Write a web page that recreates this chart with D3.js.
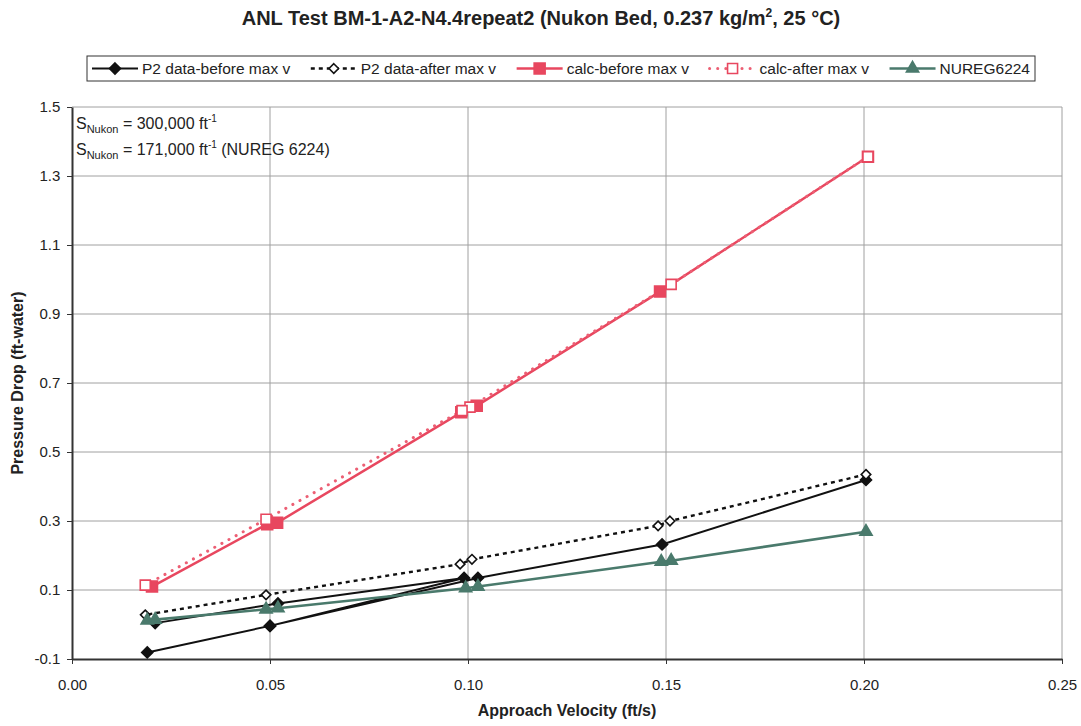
<!DOCTYPE html>
<html><head><meta charset="utf-8">
<script src="https://cdn.jsdelivr.net/npm/d3@7"></script>
<style>
body{margin:0;background:#fff;}
svg{display:block;font-family:"Liberation Sans",Arial,sans-serif;}
</style></head>
<body>
<svg id="chart" width="1081" height="726"></svg>
<script>
// ---------- data ----------
const xTicks = [0, 0.05, 0.10, 0.15, 0.20, 0.25];
const yTicks = [-0.1, 0.1, 0.3, 0.5, 0.7, 0.9, 1.1, 1.3, 1.5];

const p2BeforeV = [0.021, 0.052, 0.099, 0.050, 0.019, 0.050, 0.1025, 0.149, 0.2005];
const p2BeforeP = [0.004, 0.061, 0.135, -0.004, -0.081, -0.004, 0.135, 0.232, 0.419];

const p2AfterV = [0.2005, 0.151, 0.148, 0.101, 0.098, 0.049, 0.0185];
const p2AfterP = [0.435, 0.300, 0.286, 0.189, 0.175, 0.086, 0.028];

const calcBeforeV = [0.0202, 0.0493, 0.0518, 0.0983, 0.1022, 0.1485, 0.201];
const calcBeforeP = [0.110, 0.291, 0.295, 0.615, 0.634, 0.965, 1.356];

const calcAfterV = [0.201, 0.1513, 0.1005, 0.0985, 0.049, 0.0185];
const calcAfterP = [1.356, 0.986, 0.630, 0.620, 0.305, 0.114];

const nuregV = [0.019, 0.021, 0.049, 0.052, 0.0994, 0.1025, 0.1488, 0.1513, 0.2005];
const nuregP = [0.012, 0.014, 0.044, 0.047, 0.105, 0.110, 0.182, 0.185, 0.269];

const legendLabels = ["P2 data-before max v", "P2 data-after max v", "calc-before max v", "calc-after max v", "NUREG6224"];

// ---------- layout ----------
const svg = d3.select("#chart");
const L = 72, R = 1062, T = 107, B = 659;
const x = d3.scaleLinear().domain([0, 0.25]).range([L, R]);
const y = d3.scaleLinear().domain([-0.1, 1.5]).range([B, T]);

const RED = "#e8475f", PINK = "#ec5f74", GREEN = "#4a7a6c", GRID = "#a0a0a0";

svg.append("rect").attr("width", 1081).attr("height", 726).attr("fill", "#fff");

// gridlines
svg.append("g").selectAll("line").data(yTicks.slice(1)).join("line")
  .attr("x1", L).attr("x2", R).attr("y1", d => y(d)).attr("y2", d => y(d))
  .attr("stroke", GRID).attr("stroke-width", 1);
svg.append("g").selectAll("line").data(xTicks.slice(1)).join("line")
  .attr("y1", T).attr("y2", B).attr("x1", d => x(d)).attr("x2", d => x(d))
  .attr("stroke", GRID).attr("stroke-width", 1);

// axes
const fmt1 = d3.format(".1f");
const xAxis = svg.append("g").attr("transform", `translate(0,${B})`)
  .call(d3.axisBottom(x).tickValues(xTicks).tickFormat(d3.format(".2f")).tickSize(5).tickSizeOuter(0));
const yAxis = svg.append("g").attr("transform", `translate(${L},0)`)
  .call(d3.axisLeft(y).tickValues(yTicks).tickFormat(d => fmt1(d).replace("\u2212", "-")).tickSize(5).tickSizeOuter(0));
[xAxis, yAxis].forEach(g => {
  g.select(".domain").attr("stroke", "#333").attr("stroke-width", 2);
  g.selectAll(".tick line").attr("stroke", "#333");
  g.selectAll("text").attr("font-size", 15).attr("fill", "#222")
    .attr("font-family", "'Liberation Sans', Arial, sans-serif");
});
xAxis.selectAll("text").attr("dy", "1.5em");
yAxis.selectAll("text").attr("dx", "-0.25em");

// titles
svg.append("text").attr("x", 541).attr("y", 25).attr("text-anchor", "middle")
  .attr("font-size", 20).attr("font-weight", "bold").attr("fill", "#222")
  .call(t => {
    t.append("tspan").text("ANL Test BM-1-A2-N4.4repeat2 (Nukon Bed, 0.237 kg/m");
    t.append("tspan").attr("font-size", 12).attr("dy", -8).text("2");
    t.append("tspan").attr("dy", 8).text(", 25 \u00B0C)");
  });
svg.append("text").attr("x", (L + R) / 2).attr("y", 716).attr("text-anchor", "middle")
  .attr("font-size", 16).attr("font-weight", "bold").attr("fill", "#222")
  .text("Approach Velocity (ft/s)");
svg.append("text").attr("transform", `translate(23,${(T + B) / 2}) rotate(-90)`)
  .attr("text-anchor", "middle").attr("font-size", 16).attr("font-weight", "bold").attr("fill", "#222")
  .text("Pressure Drop (ft-water)");

// annotations
function sLabel(yPos, value, extra) {
  const t = svg.append("text").attr("x", 76).attr("y", yPos).attr("font-size", 16).attr("fill", "#222");
  t.append("tspan").text("S");
  t.append("tspan").attr("font-size", 11).attr("dy", 4).text("Nukon");
  t.append("tspan").attr("dy", -4).text(" = " + value + " ft");
  t.append("tspan").attr("font-size", 10).attr("dy", -7).text("-1");
  t.append("tspan").attr("dy", 7).text(extra);
}
sLabel(129, "300,000", "");
sLabel(155, "171,000", " (NUREG 6224)");

// ---------- series ----------
const zip = (vs, ps) => vs.map((v, i) => [v, ps[i]]);
const line = d3.line().x(d => x(d[0])).y(d => y(d[1]));

const series = [
  { data: zip(p2BeforeV, p2BeforeP), stroke: "#111", width: 2, dash: null, sym: d3.symbolDiamond2, size: 78, fill: "#111", mstroke: "#111" },
  { data: zip(p2AfterV, p2AfterP), stroke: "#111", width: 2.4, dash: "4,4", sym: d3.symbolDiamond2, size: 58, fill: "#fff", mstroke: "#111" },
  { data: zip(calcBeforeV, calcBeforeP), stroke: RED, width: 2.5, dash: null, sym: d3.symbolSquare, size: 120, fill: RED, mstroke: RED },
  { data: zip(calcAfterV, calcAfterP), stroke: PINK, width: 3, dash: "0.1,8", sym: d3.symbolSquare, size: 100, fill: "#fff", mstroke: RED, round: true },
  { data: zip(nuregV, nuregP), stroke: GREEN, width: 2.6, dash: null, sym: d3.symbolTriangle, size: 65, fill: GREEN, mstroke: GREEN }
];

series.forEach(s => {
  svg.append("path").attr("d", line(s.data)).attr("fill", "none")
    .attr("stroke", s.stroke).attr("stroke-width", s.width)
    .attr("stroke-dasharray", s.dash)
    .attr("stroke-linecap", s.round ? "round" : "butt");
});
series.forEach(s => {
  svg.append("g").selectAll("path").data(s.data).join("path")
    .attr("transform", d => `translate(${x(d[0])},${y(d[1])})`)
    .attr("d", d3.symbol().type(s.sym).size(s.size))
    .attr("fill", s.fill).attr("stroke", s.mstroke).attr("stroke-width", 1.6);
});

// ---------- legend (evenly spaced entries, Excel style) ----------
const lg = svg.append("g");
const boxX = 87, boxW = 948, boxY = 56, boxH = 25, pad = 5, lineLen = 46, lineGap = 4;
lg.append("rect").attr("x", boxX).attr("y", boxY).attr("width", boxW).attr("height", boxH)
  .attr("fill", "#fff").attr("stroke", "#333").attr("stroke-width", 1);
const texts = legendLabels.map(lab => lg.append("text").attr("y", boxY + boxH / 2 + 5.5)
  .attr("font-size", 15.5).attr("fill", "#222").text(lab));
const widths = texts.map(t => t.node().getComputedTextLength());
const used = d3.sum(widths) + legendLabels.length * (lineLen + lineGap);
const gap = (boxW - 2 * pad - used) / (legendLabels.length - 1);
let cx = boxX + pad;
legendLabels.forEach((lab, i) => {
  const s = series[i], yy = boxY + boxH / 2;
  lg.append("line").attr("x1", cx).attr("x2", cx + lineLen).attr("y1", yy).attr("y2", yy)
    .attr("stroke", s.stroke).attr("stroke-width", s.width).attr("stroke-dasharray", s.dash)
    .attr("stroke-linecap", s.round ? "round" : "butt");
  lg.append("path").attr("transform", `translate(${cx + lineLen / 2},${yy})`)
    .attr("d", d3.symbol().type(s.sym).size(s.size)).attr("fill", s.fill)
    .attr("stroke", s.mstroke).attr("stroke-width", 1.6);
  texts[i].attr("x", cx + lineLen + lineGap);
  cx += lineLen + lineGap + widths[i] + gap;
});
</script>
</body></html>
